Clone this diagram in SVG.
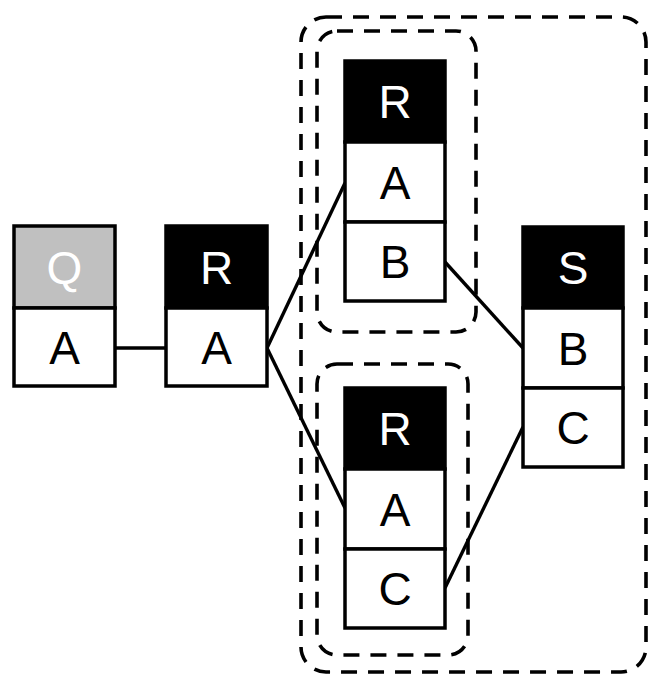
<svg xmlns="http://www.w3.org/2000/svg" width="664" height="696" viewBox="0 0 664 696">
<style>
.row{fill:#fff;stroke:#000;stroke-width:3.5}
.hd{fill:#000;stroke:#000;stroke-width:3.5}
.hdg{fill:#c0c0c0;stroke:#000;stroke-width:3.5}
.t{font-family:"Liberation Sans",Arial,sans-serif;font-size:46px;text-anchor:middle;fill:#000}
.tw{fill:#fff}
.grp{fill:none;stroke:#000;stroke-width:3.6;stroke-dasharray:16 11}
.edge{fill:none;stroke:#000;stroke-width:3.4}
</style>
<rect width="664" height="696" fill="#fff"/>
<g id="groups">
<rect class="grp" x="301" y="17" width="345" height="655" rx="25"/>
<rect class="grp" x="317" y="31" width="159" height="301" rx="20"/>
<rect class="grp" x="317" y="364" width="151" height="291" rx="20"/>
</g>
<g id="connectors">
<line class="edge" x1="115" y1="348" x2="166" y2="348"/>
<line class="edge" x1="267" y1="348" x2="345" y2="183"/>
<line class="edge" x1="267" y1="348" x2="345" y2="508"/>
<line class="edge" x1="445" y1="262" x2="523" y2="348"/>
<line class="edge" x1="445" y1="588" x2="523" y2="427"/>
</g>
<g id="nodeQ">
<rect class="hdg" x="14" y="226" width="101" height="82"/>
<rect class="row" x="14" y="308" width="101" height="78"/>
<text class="t tw" x="64.5" y="284">Q</text>
<text class="t" x="64.5" y="364">A</text>
</g>
<g id="nodeR1">
<rect class="hd" x="166" y="226" width="101" height="82"/>
<rect class="row" x="166" y="308" width="101" height="78"/>
<text class="t tw" x="216.5" y="284">R</text>
<text class="t" x="216.5" y="364">A</text>
</g>
<g id="nodeR2">
<rect class="hd" x="345" y="61" width="100" height="81"/>
<rect class="row" x="345" y="142" width="100" height="80"/>
<rect class="row" x="345" y="222" width="100" height="79"/>
<text class="t tw" x="395" y="118">R</text>
<text class="t" x="395" y="199">A</text>
<text class="t" x="395" y="278">B</text>
</g>
<g id="nodeR3">
<rect class="hd" x="345" y="388" width="100" height="81"/>
<rect class="row" x="345" y="469" width="100" height="80"/>
<rect class="row" x="345" y="549" width="100" height="79"/>
<text class="t tw" x="395" y="445">R</text>
<text class="t" x="395" y="526">A</text>
<text class="t" x="395" y="605">C</text>
</g>
<g id="nodeS">
<rect class="hd" x="523" y="227" width="100" height="81"/>
<rect class="row" x="523" y="308" width="100" height="80"/>
<rect class="row" x="523" y="388" width="100" height="79"/>
<text class="t tw" x="573" y="284">S</text>
<text class="t" x="573" y="365">B</text>
<text class="t" x="573" y="444">C</text>
</g>
</svg>
